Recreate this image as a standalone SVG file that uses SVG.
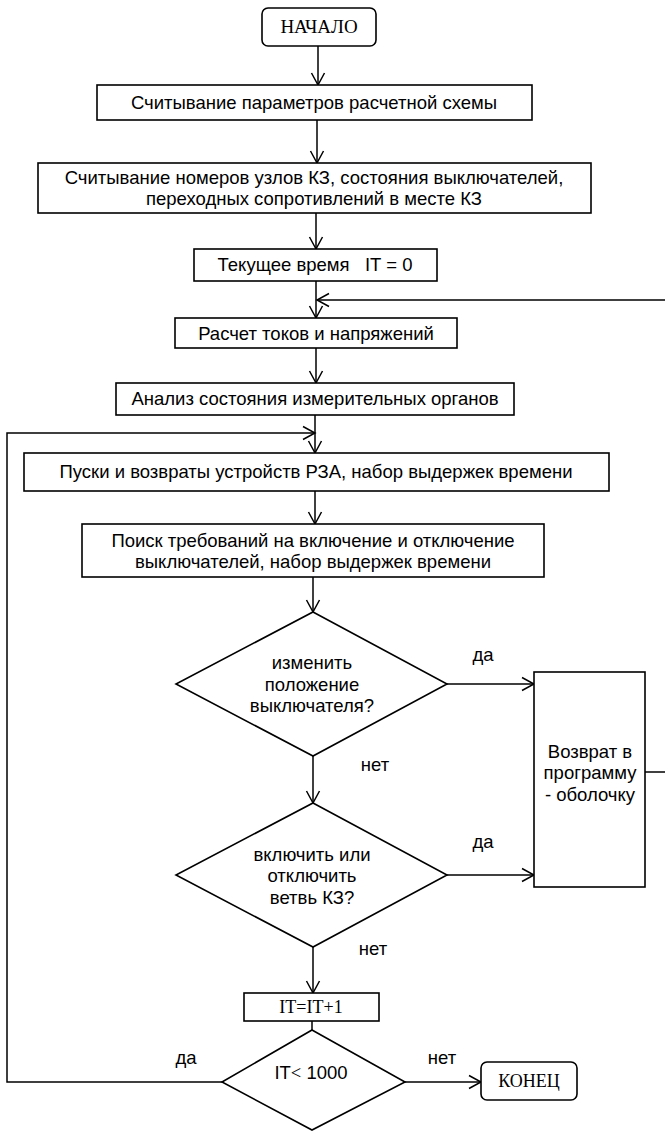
<svg xmlns="http://www.w3.org/2000/svg" width="665" height="1131" viewBox="0 0 665 1131">
  <style>
    .box { fill: #fff; stroke: #000; stroke-width: 1.6; }
    .ln { fill: none; stroke: #000; stroke-width: 1.5; }
    .arr { marker-end: url(#ah); }
    .t { font-family: "Liberation Sans", Arial, sans-serif; font-size: 18.5px; fill: #000; text-anchor: middle; white-space: pre; }
    .s { font-family: "Liberation Serif", "Times New Roman", serif; font-size: 18px; fill: #000; text-anchor: middle; }
  </style>
  <defs>
    <marker id="ah" markerUnits="userSpaceOnUse" markerWidth="16" markerHeight="16" refX="13" refY="7" orient="auto" overflow="visible">
      <path d="M1,0.5 L13,7 L1,13.5" fill="none" stroke="#000" stroke-width="1.5"/>
    </marker>
  </defs>

  <!-- connectors -->
  <g id="connectors">
    <line class="ln arr" x1="318" y1="46" x2="318" y2="85"/>
    <line class="ln arr" x1="317" y1="120" x2="317" y2="163"/>
    <line class="ln arr" x1="316" y1="213" x2="316" y2="249"/>
    <line class="ln arr" x1="316" y1="281" x2="316" y2="318"/>
    <line class="ln arr" x1="665" y1="300" x2="317" y2="300"/>
    <line class="ln arr" x1="316" y1="348" x2="316" y2="383"/>
    <line class="ln arr" x1="315" y1="415" x2="315" y2="453"/>
    <line class="ln arr" x1="315" y1="491" x2="315" y2="524"/>
    <line class="ln arr" x1="313" y1="577" x2="313" y2="612"/>
    <line class="ln arr" x1="447" y1="684" x2="534" y2="684"/>
    <line class="ln arr" x1="313" y1="756" x2="313" y2="803"/>
    <line class="ln arr" x1="447" y1="875" x2="534" y2="875"/>
    <line class="ln" x1="645" y1="772" x2="665" y2="772"/>
    <line class="ln arr" x1="313" y1="947" x2="313" y2="993"/>
    <line class="ln" x1="312" y1="1021" x2="312" y2="1030"/>
    <line class="ln arr" x1="405" y1="1082" x2="481" y2="1082"/>
    <path class="ln arr" d="M222,1082 H7 V433 H315"/>
    <text class="t" x="483" y="661">да</text>
    <text class="t" x="375" y="771">нет</text>
    <text class="t" x="483" y="848">да</text>
    <text class="t" x="373" y="955">нет</text>
    <text class="t" x="186" y="1064">да</text>
    <text class="t" x="442" y="1064">нет</text>
  </g>

  <g id="start">
    <rect class="box" x="262" y="8" width="114" height="38" rx="6"/>
    <text class="s" x="319" y="33" style="font-size:19px">НАЧАЛО</text>
  </g>

  <g id="read-params">
    <rect class="box" x="97" y="85" width="435" height="35"/>
    <text class="t" x="314" y="109">Считывание параметров расчетной схемы</text>
  </g>

  <g id="read-nodes">
    <rect class="box" x="38" y="163" width="553" height="50"/>
    <text class="t" x="314" y="184">Считывание номеров узлов КЗ, состояния выключателей,</text>
    <text class="t" x="314" y="205">переходных сопротивлений в месте КЗ</text>
  </g>

  <g id="time-init">
    <rect class="box" x="194" y="249" width="243" height="32"/>
    <text class="t" x="315" y="271">Текущее время   IT = 0</text>
  </g>

  <g id="calc">
    <rect class="box" x="175" y="318" width="282" height="30"/>
    <text class="t" x="316" y="340">Расчет токов и напряжений</text>
  </g>

  <g id="analysis">
    <rect class="box" x="116" y="383" width="398" height="32"/>
    <text class="t" x="315" y="405">Анализ состояния измерительных органов</text>
  </g>

  <g id="starts">
    <rect class="box" x="24" y="453" width="585" height="38"/>
    <text class="t" x="316" y="478">Пуски и возвраты устройств РЗА, набор выдержек времени</text>
  </g>

  <g id="search">
    <rect class="box" x="82" y="524" width="462" height="53"/>
    <text class="t" x="313" y="547">Поиск требований на включение и отключение</text>
    <text class="t" x="313" y="568">выключателей, набор выдержек времени</text>
  </g>

  <g id="decision-switch">
    <polygon class="box" points="313,612 447,684 313,756 176,684"/>
    <text class="t" x="312" y="669">изменить</text>
    <text class="t" x="312" y="691">положение</text>
    <text class="t" x="312" y="712">выключателя?</text>
  </g>

  <g id="decision-branch">
    <polygon class="box" points="313,803 447,875 313,947 176,875"/>
    <text class="t" x="312" y="861">включить или</text>
    <text class="t" x="312" y="882">отключить</text>
    <text class="t" x="312" y="904">ветвь КЗ?</text>
  </g>

  <g id="return">
    <rect class="box" x="534" y="672" width="111" height="215"/>
    <text class="t" x="590" y="758">Возврат в</text>
    <text class="t" x="590" y="779">программу</text>
    <text class="t" x="590" y="801">- оболочку</text>
  </g>

  <g id="increment">
    <rect class="box" x="244" y="993" width="135" height="28"/>
    <text class="s" x="311" y="1013">IT=IT+1</text>
  </g>

  <g id="decision-limit">
    <polygon class="box" points="312,1030 405,1082 312,1130 222,1082"/>
    <!-- the "<" sign is set in the serif face -->
    <text class="t" x="311" y="1079">IT<tspan style="font-family:'Liberation Serif','Times New Roman',serif">&lt;</tspan> 1000</text>
  </g>

  <g id="end">
    <rect class="box" x="481" y="1062" width="96" height="38" rx="6"/>
    <text class="s" x="529" y="1087">КОНЕЦ</text>
  </g>
</svg>
